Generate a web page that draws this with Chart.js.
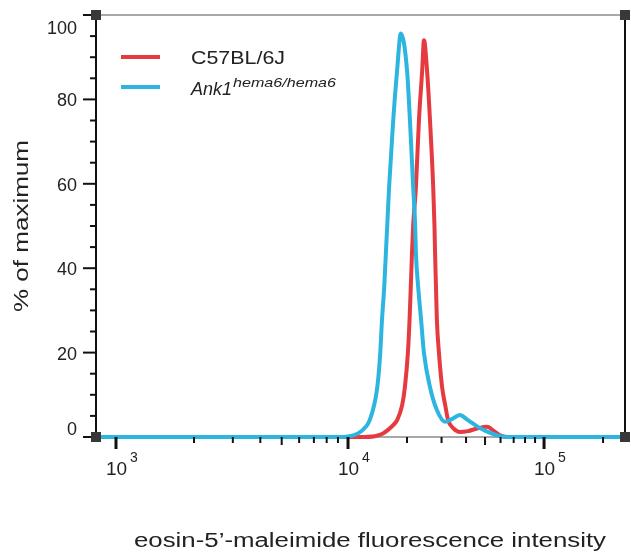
<!DOCTYPE html>
<html>
<head>
<meta charset="utf-8">
<script src="https://cdn.jsdelivr.net/npm/chart.js@4.4.0/dist/chart.umd.min.js"></script>
<style>
  html, body { margin: 0; padding: 0; background: #fff; }
  #wrap { width: 631px; height: 556px; position: relative; }
</style>
</head>
<body>
<div id="wrap"><canvas id="emaChart"></canvas></div>
<script>
// values: intensity (a.u.) and % of maximum
const c57Intensity = [700, 11500, 13700, 14900, 16000, 17000, 17800, 18900, 19500, 20200, 20600, 20900, 21200, 21500, 22200, 23000, 23900, 24400, 25300, 26200, 27200, 27600, 27800, 28100, 28400, 29100, 30200, 31300, 32400, 34400, 37200, 40900, 45500, 51200, 55600, 59700, 64000, 300000];
const c57Percent = [0, 0, 0.2, 0.7, 1.7, 2.8, 4.0, 7.6, 11.8, 19.9, 27.7, 35.5, 43.6, 50.2, 59.2, 75, 86.9, 94, 86.9, 75, 59.2, 50.2, 43.6, 35.5, 27.7, 19.9, 11.8, 7.6, 4.0, 2.1, 1.2, 1.4, 2.0, 2.4, 1.4, 0.4, 0, 0];
const ankIntensity = [700, 9500, 10500, 11900, 12900, 14100, 14600, 14900, 15300, 15600, 15900, 16200, 17000, 17800, 18600, 20000, 20700, 21500, 22000, 22200, 22800, 23600, 24400, 26200, 28400, 31300, 34000, 37200, 40900, 46000, 50600, 59700, 66000, 300000];
const ankPercent = [0, 0, 0.3, 1.7, 4.0, 11.8, 19.9, 27.7, 35.5, 43.6, 51.4, 59.2, 75, 86.9, 95.6, 86.9, 75, 59.2, 50.2, 43.6, 35.5, 27.7, 19.9, 11.8, 6.4, 3.6, 4.3, 5.2, 4.0, 2.4, 1.4, 0.2, 0, 0];

const xMajorTicks = [1e3, 1e4, 1e5];
const xMinorTicks = [2000, 3000, 4000, 5000, 6000, 7000, 8000, 9000, 20000, 30000, 40000, 50000, 60000, 70000, 80000, 90000, 200000];
const yMajorTicks = [0, 20, 40, 60, 80, 100];
const yMinorTicks = [5, 10, 15, 25, 30, 35, 45, 50, 55, 65, 70, 75, 85, 90, 95];
const xTitle = 'eosin-5\u2019-maleimide fluorescence intensity';
const yTitle = '% of maximum';

const RED = '#e53b40';
const CYAN = '#2cb5de';

// the exported axis is not a clean log scale below 10^4, the lower decade is drawn wider
const knotsLog = [3, Math.log10(2000), 4, 6];
const knotsPos = [2.8163, 3.2143, 4, 6];
function toAxis(v) {
    const l = Math.log10(v);
    let i = 0;
    while (i < knotsLog.length - 2 && l > knotsLog[i + 1]) i++;
    const t = (l - knotsLog[i]) / (knotsLog[i + 1] - knotsLog[i]);
    return knotsPos[i] + t * (knotsPos[i + 1] - knotsPos[i]);
}

function fitText(ctx, text, x, y, font, width, align) {
    ctx.font = font;
    const w = ctx.measureText(text).width;
    const sx = width ? width / w : 1;
    ctx.save();
    ctx.translate(x, y);
    ctx.scale(sx, 1);
    ctx.textAlign = align || 'left';
    ctx.fillText(text, 0, 0);
    ctx.restore();
    return w * sx;
}

const framePlugin = {
    id: 'frame',
    beforeDatasetsDraw(chart) {
        const {ctx, chartArea: a} = chart;
        ctx.save();
        ctx.strokeStyle = '#8c8c8c';
        ctx.lineWidth = 1.5;
        ctx.beginPath();
        ctx.moveTo(a.left, a.top); ctx.lineTo(a.right, a.top);
        ctx.moveTo(a.left, a.bottom); ctx.lineTo(a.right, a.bottom);
        ctx.stroke();
        ctx.strokeStyle = '#111';
        ctx.lineWidth = 2;
        ctx.beginPath();
        ctx.moveTo(a.left, a.top); ctx.lineTo(a.left, a.bottom);
        ctx.moveTo(a.right, a.top); ctx.lineTo(a.right, a.bottom);
        ctx.stroke();
        ctx.restore();
    },
    afterDraw(chart) {
        const {ctx, chartArea: a, scales} = chart;
        const xs = scales.x, ys = scales.y;
        ctx.save();
        ctx.strokeStyle = '#111';

        // x ticks
        xMajorTicks.forEach(v => {
            const px = xs.getPixelForValue(toAxis(v));
            ctx.lineWidth = 3;
            ctx.beginPath(); ctx.moveTo(px, a.bottom); ctx.lineTo(px, a.bottom + 12); ctx.stroke();
        });
        xMinorTicks.forEach(v => {
            const px = xs.getPixelForValue(toAxis(v));
            const len = (v === 5000 || v === 50000) ? 8 : 6;
            ctx.lineWidth = 2;
            ctx.beginPath(); ctx.moveTo(px, a.bottom); ctx.lineTo(px, a.bottom + len); ctx.stroke();
        });

        // y ticks
        yMajorTicks.forEach(v => {
            const py = ys.getPixelForValue(v);
            ctx.lineWidth = 2;
            ctx.beginPath(); ctx.moveTo(a.left - 13, py); ctx.lineTo(a.left, py); ctx.stroke();
        });
        yMinorTicks.forEach(v => {
            const py = ys.getPixelForValue(v);
            ctx.lineWidth = 2;
            ctx.beginPath(); ctx.moveTo(a.left - 6, py); ctx.lineTo(a.left, py); ctx.stroke();
        });

        ctx.fillStyle = '#222';
        ctx.textBaseline = 'middle';
        ctx.font = '18px "Liberation Sans", Arial, sans-serif';
        ctx.textAlign = 'right';
        yMajorTicks.forEach(v => {
            let py = ys.getPixelForValue(v) + 2;
            if (v === 0) py = a.bottom - 7;
            if (v === 100) py = a.top + 14;
            ctx.fillText(String(v), a.left - 19, py);
        });

        // x labels as 10 with exponent
        ctx.textBaseline = 'alphabetic';
        xMajorTicks.forEach(v => {
            const px = xs.getPixelForValue(toAxis(v));
            ctx.textAlign = 'left';
            ctx.font = '19px "Liberation Sans", Arial, sans-serif';
            ctx.fillText('10', px - 10, a.bottom + 38);
            ctx.font = '14px "Liberation Sans", Arial, sans-serif';
            ctx.fillText(String(Math.round(Math.log10(v))), px + 14, a.bottom + 25);
        });

        // corner squares
        ctx.fillStyle = '#383838';
        [[a.left, a.top], [a.right, a.top], [a.left, a.bottom], [a.right, a.bottom]].forEach(p => {
            ctx.fillRect(p[0] - 5, p[1] - 5, 10, 10);
        });

        // legend
        ctx.lineWidth = 4;
        ctx.strokeStyle = RED;
        ctx.beginPath(); ctx.moveTo(121, 57); ctx.lineTo(160, 57); ctx.stroke();
        ctx.strokeStyle = CYAN;
        ctx.beginPath(); ctx.moveTo(121, 87); ctx.lineTo(160, 87); ctx.stroke();
        ctx.fillStyle = '#222';
        ctx.textBaseline = 'alphabetic';
        fitText(ctx, 'C57BL/6J', 191, 64, '19px "Liberation Sans", Arial, sans-serif', 94);
        const ankW = fitText(ctx, 'Ank1', 191, 95, 'italic 18px "Liberation Sans", Arial, sans-serif');
        fitText(ctx, 'hema6/hema6', 191 + ankW + 1, 87, 'italic 13px "Liberation Sans", Arial, sans-serif', 103);

        // axis titles
        fitText(ctx, xTitle, 370, 547, '20px "Liberation Sans", Arial, sans-serif', 472, 'center');
        ctx.save();
        ctx.translate(28, 226);
        ctx.rotate(-Math.PI / 2);
        fitText(ctx, yTitle, 0, 0, '20px "Liberation Sans", Arial, sans-serif', 172, 'center');
        ctx.restore();

        ctx.restore();
    }
};

document.addEventListener('DOMContentLoaded', function() {
    const ctx = document.getElementById('emaChart').getContext('2d');
    const clipBox = {left: 0, top: 6, right: 0, bottom: 4};

    new Chart(ctx, {
        type: 'line',
        data: {
            datasets: [
                {
                    label: 'Ank1 hema6/hema6',
                    data: ankIntensity.map((v, i) => ({x: toAxis(v), y: ankPercent[i]})),
                    borderColor: CYAN,
                    borderWidth: 4,
                    pointRadius: 0,
                    cubicInterpolationMode: 'monotone',
                    clip: clipBox,
                    order: 1
                },
                {
                    label: 'C57BL/6J',
                    data: c57Intensity.map((v, i) => ({x: toAxis(v), y: c57Percent[i]})),
                    borderColor: RED,
                    borderWidth: 4,
                    pointRadius: 0,
                    cubicInterpolationMode: 'monotone',
                    clip: clipBox,
                    order: 2
                }
            ]
        },
        options: {
            responsive: true,
            maintainAspectRatio: false,
            animation: false,
            layout: { padding: { left: 96, right: 6, top: 15, bottom: 119 } },
            plugins: { legend: { display: false }, tooltip: { enabled: false } },
            scales: {
                x: { type: 'linear', display: false, min: 2.7143, max: 5.413 },
                y: { display: false, min: 0, max: 100 }
            }
        },
        plugins: [framePlugin]
    });
});
</script>
</body>
</html>
